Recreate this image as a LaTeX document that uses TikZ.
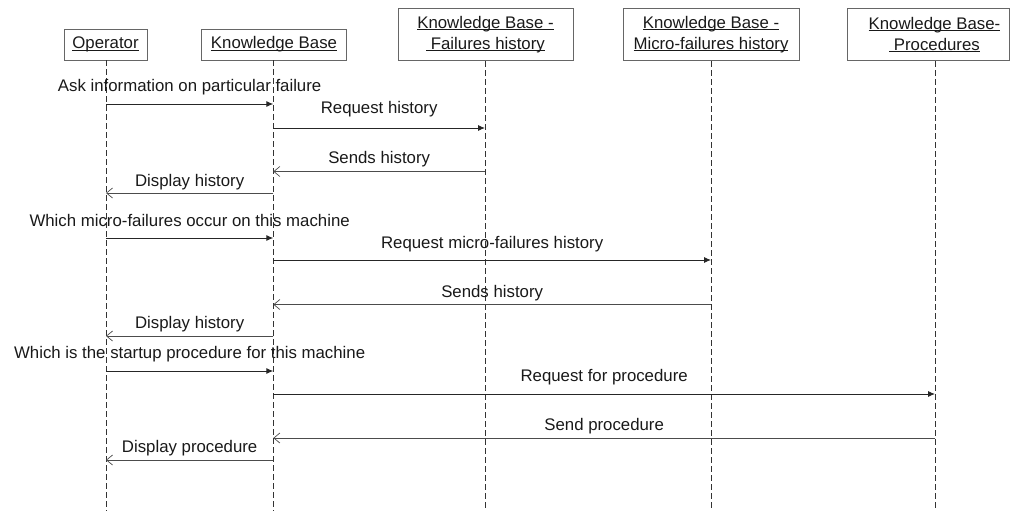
\documentclass[tikz,border=0pt]{standalone}
\usepackage{fontspec}
\setmainfont{Liberation Sans}
\usetikzlibrary{arrows.meta}
\newcommand{\myul}[1]{\setbox0\hbox{#1}\rlap{\rule[-2pt]{\wd0}{0.9pt}}\box0}
\begin{document}
\begin{tikzpicture}[x=1pt,y=-1pt,
  every node/.style={font=\fontsize{16.8}{21}\selectfont, text=black!90},
  actor/.style={draw=black!60, line width=0.8pt, rectangle, align=center, inner sep=0pt},
  life/.style={draw=black!80, line width=0.8pt, dash pattern=on 6pt off 3pt},
  call/.style={draw=black!85, line width=0.9pt, -{Latex[length=7pt,width=6pt]}},
  reply/.style={draw=black!70, line width=0.9pt, -{Straight Barb[length=6pt,width=10pt,line width=0.7pt]}},
  lbl/.style={anchor=base, inner sep=0pt}]
\useasboundingbox (0,0) rectangle (1011,511);
% actors
\node[actor, minimum width=83pt, minimum height=31pt] (op) at (105.5,44.5) {\myul{Operator}};
\node[actor, minimum width=145pt, minimum height=31pt] (kb) at (274,44.5) {\myul{Knowledge Base}};
\node[actor, minimum width=175pt, minimum height=52.5pt] (fh) at (485.5,34.5) {\myul{Knowledge Base -}\\\myul{\ Failures history}};
\node[actor, minimum width=176pt, minimum height=52.5pt] (mfh) at (711,34.5) {\myul{Knowledge Base -}\\\myul{Micro-failures history}};
\node[actor, minimum width=162pt, minimum height=52.5pt] (proc) at (928,34.5) {\hspace*{13pt}\myul{Knowledge Base-}\\\hspace*{13pt}\myul{\ Procedures}};
% lifelines
\coordinate (opT) at ([xshift=0.5pt]op.south);
\coordinate (kbT) at ([xshift=-0.7pt]kb.south);
\coordinate (fhT) at ([xshift=-0.5pt]fh.south);
\coordinate (mfhT) at (mfh.south);
\coordinate (procT) at ([xshift=7pt]proc.south);
\coordinate (bot) at (0,511);
\foreach \t in {opT,kbT,fhT,mfhT,procT} \draw[life] (\t) -- (\t |- bot);
% message levels
\coordinate (y1) at (0,104);
\coordinate (y2) at (0,128);
\coordinate (y3) at (0,171.5);
\coordinate (y4) at (0,193);
\coordinate (y5) at (0,238);
\coordinate (y6) at (0,260);
\coordinate (y7) at (0,304.5);
\coordinate (y8) at (0,336);
\coordinate (y9) at (0,371);
\coordinate (y10) at (0,394);
\coordinate (y11) at (0,438);
\coordinate (y12) at (0,460);
% messages
\draw[call] (opT |- y1) -- (kbT |- y1) node[lbl, midway, yshift=12pt] (l1) {Ask information on particular failure};
\draw[call] (kbT |- y2) -- (fhT |- y2) node[lbl, midway, yshift=15pt] (l2) {Request history};
\draw[reply] (fhT |- y3) -- (kbT |- y3) node[lbl, midway, yshift=8.5pt] (l3) {Sends history};
\draw[reply] (kbT |- y4) -- (opT |- y4) node[lbl, midway, yshift=7pt] (l4) {Display history};
\draw[call] (opT |- y5) -- (kbT |- y5) node[lbl, midway, yshift=12pt] (l5) {Which micro-failures occur on this machine};
\draw[call] (kbT |- y6) -- (mfhT |- y6) node[lbl, midway, yshift=12pt] (l6) {Request micro-failures history};
\draw[reply] (mfhT |- y7) -- (kbT |- y7) node[lbl, midway, yshift=7.5pt] (l7) {Sends history};
\draw[reply] (kbT |- y8) -- (opT |- y8) node[lbl, midway, yshift=8pt] (l8) {Display history};
\draw[call] (opT |- y9) -- (kbT |- y9) node[lbl, midway, yshift=13pt] (l9) {Which is the startup procedure for this machine};
\draw[call] (kbT |- y10) -- (procT |- y10) node[lbl, midway, yshift=13pt] (l10) {Request for procedure};
\draw[reply] (procT |- y11) -- (kbT |- y11) node[lbl, midway, yshift=8pt] (l11) {Send procedure};
\draw[reply] (kbT |- y12) -- (opT |- y12) node[lbl, midway, yshift=8pt] (l12) {Display procedure};
\end{tikzpicture}
\end{document}
